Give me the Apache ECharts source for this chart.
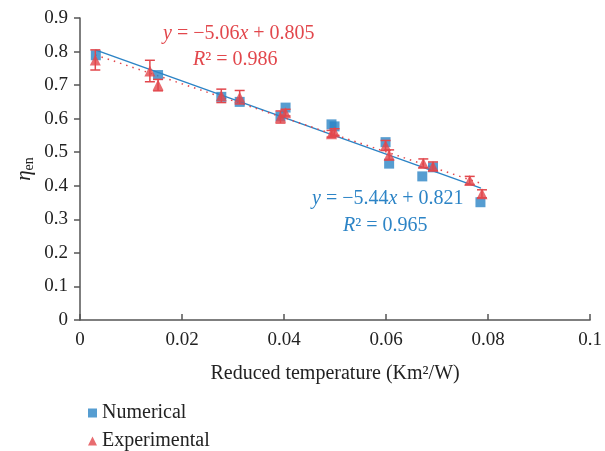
<!DOCTYPE html>
<html>
<head>
<meta charset="utf-8">
<script src="https://cdn.jsdelivr.net/npm/echarts@6/dist/echarts.min.js"></script>
<style>
  html, body { margin: 0; padding: 0; background: #fff; }
  #chart { width: 605px; height: 451px; }
</style>
</head>
<body>
<div id="chart"></div>
<script>
// numerical results (blue squares)
var numX = [0.0031, 0.0153, 0.0277, 0.0313, 0.0393, 0.0403, 0.0493, 0.0499, 0.0599, 0.0606, 0.0671, 0.0692, 0.0785]
var numY = [0.789, 0.730, 0.665, 0.650, 0.607, 0.633, 0.583, 0.577, 0.530, 0.466, 0.428, 0.455, 0.351]

// experimental results (red triangles) with error
var expX = [0.0030, 0.0137, 0.0153, 0.0277, 0.0313, 0.0393, 0.0403, 0.0493, 0.0499, 0.0599, 0.0606, 0.0673, 0.0692, 0.0764, 0.0788]
var expY = [0.775, 0.742, 0.700, 0.668, 0.664, 0.605, 0.618, 0.555, 0.560, 0.520, 0.492, 0.467, 0.458, 0.416, 0.376]
var expErr = [0.030, 0.032, 0.017, 0.020, 0.020, 0.018, 0.010, 0.010, 0.010, 0.015, 0.015, 0.013, 0.013, 0.012, 0.012]

// linear fits, end points
var fitNumX = [0.003, 0.0786]
var fitNumY = [0.805, 0.393]
var fitExpX = [0.003, 0.0786]
var fitExpY = [0.790, 0.407]

var blue = "#2c84c6"
var red = "#e2474c"
var font = "Liberation Serif"

function zip(xs, ys){
    return xs.map(function(x, i){ return [x, ys[i]] })
}

function eqText(left, top, text, color){
    return {
        type: "text", left: left, top: top,
        style: {
            text: text,
            fill: color,
            font: "20px " + font,
            rich: { i: { fontStyle: "italic", fontSize: 20, fontFamily: font, fill: color } }
        }
    }
}

function legendAt(top, name, icon){
    return {
        left: 83,
        top: top,
        itemWidth: 9,
        itemHeight: 9,
        textStyle: { fontFamily: font, fontSize: 20, color: "#222" },
        data: [{ name: name, icon: icon }]
    }
}

var myChart = echarts.init(document.getElementById("chart"))
var option = {
    animation: false,
    textStyle: { fontFamily: font },
    grid: { left: 80, right: 12, top: 18, bottom: 131 },
    legend: [
        legendAt(398, "Numerical", "rect"),
        legendAt(426, "Experimental", "triangle")
    ],
    xAxis: {
        type: "value",
        min: 0,
        max: 0.1,
        interval: 0.02,
        splitLine: { show: false },
        axisLine: { lineStyle: { color: "#555", width: 1.5 } },
        axisTick: { inside: true, length: 6, lineStyle: { color: "#555", width: 1.5 } },
        axisLabel: {
            fontFamily: font, fontSize: 19, color: "#222", margin: 11,
            formatter: function(v){ return String(+v.toFixed(2)) }
        },
        name: "Reduced temperature (Km²/W)",
        nameLocation: "middle",
        nameGap: 44,
        nameTextStyle: { fontFamily: font, fontSize: 20, color: "#222" }
    },
    yAxis: {
        type: "value",
        min: 0,
        max: 0.9,
        interval: 0.1,
        splitLine: { show: false },
        axisLine: { lineStyle: { color: "#555", width: 1.5 } },
        axisTick: { length: 6, lineStyle: { color: "#555", width: 1.5 } },
        axisLabel: {
            fontFamily: font, fontSize: 19, color: "#222", margin: 12,
            formatter: function(v){ return String(+v.toFixed(1)) }
        },
        name: "{i|η}{s|en}",
        nameLocation: "middle",
        nameRotate: 90,
        nameGap: 44,
        nameMoveOverlap: false,
        nameTextStyle: {
            rich: {
                i: { fontFamily: font, fontStyle: "italic", fontSize: 21, color: "#222" },
                s: { fontFamily: font, fontSize: 14, color: "#222", padding: [9, 0, 0, 0] }
            }
        }
    },
    graphic: [
        eqText(163, 24, "{i|y} = −5.06{i|x} + 0.805", red),
        eqText(193, 50, "{i|R}² = 0.986", red),
        eqText(312, 189, "{i|y} = −5.44{i|x} + 0.821", blue),
        eqText(343, 216, "{i|R}² = 0.965", blue)
    ],
    series: [
        {
            name: "fitNum",
            type: "line",
            data: zip(fitNumX, fitNumY),
            symbol: "none",
            lineStyle: { color: blue, width: 1.5 },
            z: 1
        },
        {
            name: "fitExp",
            type: "line",
            data: zip(fitExpX, fitExpY),
            symbol: "none",
            lineStyle: { color: red, width: 1.5, type: [1.5, 5] },
            z: 1
        },
        {
            name: "Numerical",
            type: "scatter",
            data: zip(numX, numY),
            symbol: "rect",
            symbolSize: 10,
            itemStyle: { color: blue },
            z: 2
        },
        {
            name: "errorbars",
            type: "custom",
            data: expX.map(function(x, i){ return [x, expY[i] - expErr[i], expY[i] + expErr[i]] }),
            renderItem: function(params, api){
                var lo = api.coord([api.value(0), api.value(1)])
                var hi = api.coord([api.value(0), api.value(2)])
                var w = 5
                var st = { stroke: red, lineWidth: 1.5 }
                return {
                    type: "group",
                    children: [
                        { type: "line", shape: { x1: lo[0], y1: lo[1], x2: hi[0], y2: hi[1] }, style: st },
                        { type: "line", shape: { x1: lo[0] - w, y1: lo[1], x2: lo[0] + w, y2: lo[1] }, style: st },
                        { type: "line", shape: { x1: hi[0] - w, y1: hi[1], x2: hi[0] + w, y2: hi[1] }, style: st }
                    ]
                }
            },
            z: 3
        },
        {
            name: "Experimental",
            type: "scatter",
            data: zip(expX, expY),
            symbol: "triangle",
            symbolSize: 11,
            itemStyle: { color: red },
            z: 4
        }
    ]
}
myChart.setOption(option)
</script>
</body>
</html>
